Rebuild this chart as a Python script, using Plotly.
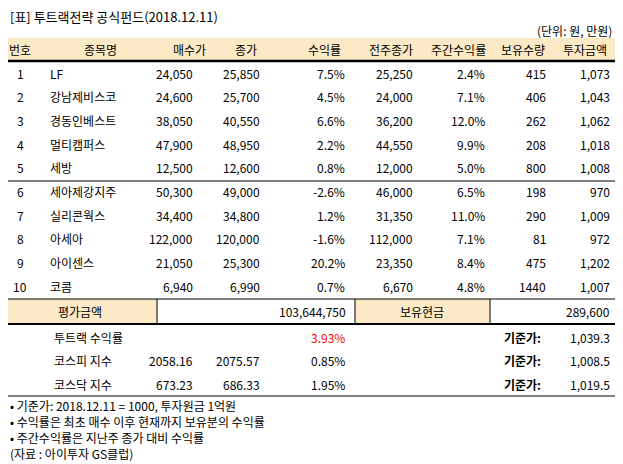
import plotly.graph_objects as go

title = "[표] 투트랙전략 공식펀드(2018.12.11)"
unit = "(단위: 원, 만원)"
headers = ["번호", "종목명", "매수가", "종가", "수익률", "전주종가", "주간수익률", "보유수량", "투자금액"]
nums = ["1", "2", "3", "4", "5", "6", "7", "8", "9", "10"]
names = ["LF", "강남제비스코", "경동인베스트", "멀티캠퍼스", "세방", "세아제강지주", "실리콘웍스", "아세아", "아이센스", "코콤"]
buy = ["24,050", "24,600", "38,050", "47,900", "12,500", "50,300", "34,400", "122,000", "21,050", "6,940"]
close = ["25,850", "25,700", "40,550", "48,950", "12,600", "49,000", "34,800", "120,000", "25,300", "6,990"]
ret = ["7.5%", "4.5%", "6.6%", "2.2%", "0.8%", "-2.6%", "1.2%", "-1.6%", "20.2%", "0.7%"]
prev = ["25,250", "24,000", "36,200", "44,550", "12,000", "46,000", "31,350", "112,000", "23,350", "6,670"]
wret = ["2.4%", "7.1%", "12.0%", "9.9%", "5.0%", "6.5%", "11.0%", "7.1%", "8.4%", "4.8%"]
qty = ["415", "406", "262", "208", "800", "198", "290", "81", "475", "1440"]
amt = ["1,073", "1,043", "1,062", "1,018", "1,008", "970", "1,009", "972", "1,202", "1,007"]
eval_amt = "103,644,750"
cash = "289,600"
idx_names = ["투트랙 수익률", "코스피 지수", "코스닥 지수"]
idx_prev = ["", "2058.16", "673.23"]
idx_now = ["", "2075.57", "686.33"]
idx_ret = ["3.93%", "0.85%", "1.95%"]
base = ["1,039.3", "1,008.5", "1,019.5"]
notes = ["• 기준가: 2018.12.11 = 1000, 투자원금 1억원",
         "• 수익률은 최초 매수 이후 현재까지 보유분의 수익률",
         "• 주간수익률은 지난주 종가 대비 수익률",
         "(자료 : 아이투자 GS클럽)"]

FONT = "Noto Sans CJK KR, sans-serif"
BEIGE = "#FCE9C6"
OFF = 8  # page body margin
fig = go.Figure()
ann = []
shapes = []

def text(x, y, t, anchor="left", color="black", size=12, bold=False):
    ann.append(dict(x=x, y=y, text=f"<b>{t}</b>" if bold else t, xanchor=anchor, yanchor="middle",
                    showarrow=False, font=dict(family=FONT, size=size, color=color)))

def line(x0, y0, x1, y1, w=1):
    shapes.append(dict(type="line", x0=x0, y0=y0, x1=x1, y1=y1, line=dict(color="black", width=w)))

def rect(x0, y0, x1, y1, fill):
    shapes.append(dict(type="rect", x0=x0, y0=y0, x1=x1, y1=y1, fillcolor=fill, line=dict(width=0), layer="below"))

text(OFF, 16, title, size=13)
text(614, 30, unit, anchor="right")
rect(OFF, 38, 619, 60, BEIGE)
hx = [20, 100, 189, 246, 324, 391, 458, 523, 585]
for x, h in zip(hx, headers):
    text(x, 49, h, anchor="center")
line(OFF, 61, 619, 61, 2.5)

right_cols = [(195, buy), (262, close), (347, ret), (415, prev), (487, wret), (548, qty), (612, amt)]
for i in range(len(nums)):
    y = 73 + i * 23.7
    text(20, y, nums[i], anchor="center")
    text(48, y, names[i])
    for x, col in right_cols:
        text(x, y, col[i], anchor="right")
line(OFF, 181, 619, 181, 1)
line(OFF, 299, 619, 299, 1)

rect(OFF, 299, 157, 323, BEIGE)
rect(355, 299, 490, 323, BEIGE)
for x in [157, 355, 490]:
    line(x, 299, x, 323, 1)
text(80, 311, "평가금액", anchor="center")
text(348, 311, eval_amt, anchor="right")
text(422, 311, "보유현금", anchor="center")
text(612, 311, cash, anchor="right")
line(OFF, 324, 619, 324, 2)

for i in range(3):
    y = 337 + i * 23.7
    text(52, y, idx_names[i])
    text(195, y, idx_prev[i], anchor="right")
    text(262, y, idx_now[i], anchor="right")
    text(347, y, idx_ret[i], anchor="right", color="red" if i == 0 else "black")
    text(502, y, "기준가:", bold=True)
    text(612, y, base[i], anchor="right")
line(OFF, 396, 619, 396, 1)

for i, n in enumerate(notes):
    text(OFF, 405 + i * 16, n)

fig.update_layout(
    width=623, height=464, margin=dict(l=0, r=0, t=0, b=0),
    plot_bgcolor="white", paper_bgcolor="white",
    xaxis=dict(range=[OFF, 623 + OFF], visible=False, fixedrange=True),
    yaxis=dict(range=[464 + OFF, OFF], visible=False, fixedrange=True),
    annotations=ann, shapes=shapes, showlegend=False,
)
fig.write_html("out.html")
